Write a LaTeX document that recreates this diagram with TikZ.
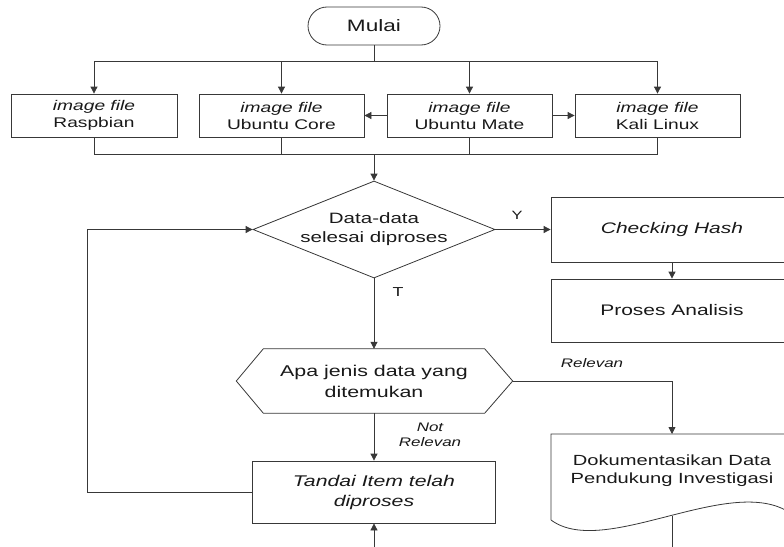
\documentclass[tikz,border=0pt]{standalone}
\usepackage{fontspec}
\setmainfont{Liberation Sans}[FakeStretch=1.37]
\usetikzlibrary{arrows.meta,calc,shapes.geometric}
\tikzset{
  ln/.style={draw=black!78, line width=0.8pt},
  arr/.style={ln, -{Triangle[length=7pt,width=7pt]}},
  boxn/.style={ln, rectangle, inner sep=0pt, align=center},
  fs/.style args={#1/#2}{font=\fontsize{#1}{#2}\selectfont},
  fsi/.style args={#1/#2}{font=\fontsize{#1}{#2}\selectfont\itshape},
  txt/.style={text=black!90}
}
\begin{document}
\begin{tikzpicture}[x=1pt,y=-1pt]
\clip (0,0) rectangle (784,546);
% start
\node[ln, txt, rounded corners=19pt, minimum width=132pt, minimum height=38pt, fs={16.5/19}] (mulai) at (374,26) {Mulai};
% image boxes
\node[boxn, txt, minimum width=166pt, minimum height=43pt, fs={14/17}] (rasp) at (94,115.5) {\textit{image file}\\Raspbian};
\node[boxn, txt, minimum width=165pt, minimum height=43pt, fs={14/17}] (core) at (281.5,115.5) {\textit{image file}\\Ubuntu Core};
\node[boxn, txt, minimum width=165pt, minimum height=43pt, fs={14/17}] (mate) at (469.5,115.5) {\textit{image file}\\Ubuntu Mate};
\node[boxn, txt, minimum width=165pt, minimum height=43pt, fs={14/17}] (kali) at (657.5,115.5) {\textit{image file}\\Kali Linux};
% decision
\node[ln, txt, diamond, aspect=2.5, minimum width=242pt, minimum height=97pt, inner sep=0pt, align=center, fs={15/19}] (dia) at (374,229.5) {Data-data\\selesai diproses};
\node[boxn, txt, minimum width=242pt, minimum height=65pt, fsi={15.3/18}] (check) at (672,229.5) {Checking Hash};
\node[boxn, txt, minimum width=242pt, minimum height=63pt, fs={15.3/18}] (proses) at (672,310.5) {Proses Analisis};
% hexagon
\node[txt, minimum width=221pt, minimum height=64pt, inner sep=0pt, align=center, fs={15.6/21}] (hex) at (374,381) {Apa jenis data yang\\ditemukan};
\draw[ln] (hex.north west) -- (hex.north east) -- ($(hex.east)+(28,0)$) coordinate (hexR)
  -- (hex.south east) -- (hex.south west) -- ($(hex.west)+(-27,0)$) coordinate (hexL) -- cycle;
% mark item
\node[boxn, txt, minimum width=243pt, minimum height=62pt, fsi={15.5/20}] (tandai) at (374,492) {Tandai Item telah\\diproses};
% document
\node[txt, align=center, inner sep=0pt, fs={14.7/18}] (doc) at (672,471) {Dokumentasikan Data\\Pendukung Investigasi};
\draw[ln] (551,520) -- (551,434) coordinate (docTL) -- (793,434) -- (793,515)
  .. controls (735,470) and (605,560) .. (551,520);
\coordinate (docTop) at (672,434);
\coordinate (docOut) at (672,515.6);
\coordinate (docEnd) at (672,560);
% connectors top
\coordinate (busT) at (374,61);
\coordinate (busB) at (374,154);
\draw[ln] (mulai.south) -- (busT);
\draw[arr] (busT) -| (rasp.north);
\draw[arr] (busT) -| (core.north);
\draw[arr] (busT) -| (mate.north);
\draw[arr] (busT) -| (kali.north);
\draw[arr] (mate.west) -- (core.east);
\draw[arr] (mate.east) -- (kali.west);
\draw[ln] (rasp.south) |- (busB);
\draw[ln] (core.south) |- (busB);
\draw[ln] (mate.south) |- (busB);
\draw[ln] (kali.south) |- (busB);
\draw[arr] (busB) -- (dia.north);
% decision branches
\draw[arr] (dia.east) -- (check.west);
\node[txt, fs={12/14}] (lY) at (517,215) {Y};
\draw[arr] (check.south) -- (proses.north);
\draw[arr] (dia.south) -- (hex.north);
\node[txt, fs={13/15}] (lT) at (398,292) {T};
\draw[arr] (hex.south) -- (tandai.north);
\node[txt, align=center, fsi={12.4/15}] (lNR) at (430,434.5) {Not\\Relevan};
\draw[arr] (hexR) -| (docTop);
\node[txt, fsi={12.4/15}] (lR) at (592,363) {Relevan};
\draw[ln] (docOut) -- (docEnd);
% loop back
\coordinate (lp) at (87,492);
\draw[arr] (tandai.west) -- (lp) |- (dia.west);
\coordinate (inB) at (374,560);
\draw[arr] (inB) -- (tandai.south);
\end{tikzpicture}
\end{document}
